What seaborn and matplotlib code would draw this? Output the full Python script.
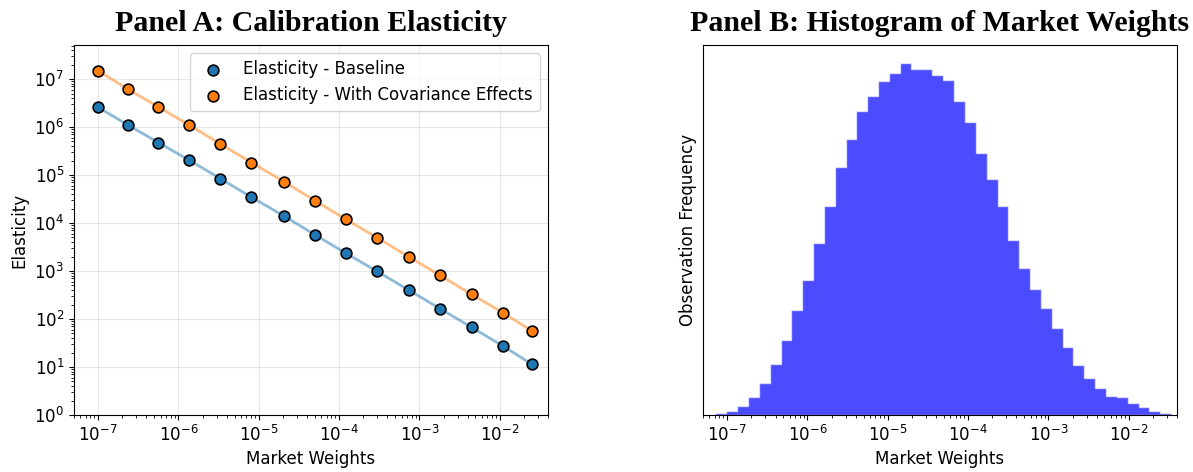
import numpy as np
import pandas as pd
import seaborn as sns
import matplotlib.pyplot as plt

# Panel A: elasticity vs market weight
market_weights = [1.0e-7, 2.36e-7, 5.64e-7, 1.37e-6, 3.33e-6, 8.11e-6, 2.05e-5, 4.98e-5,
                  1.21e-4, 3.0e-4, 7.36e-4, 1.82e-3, 4.48e-3, 1.10e-2, 2.5e-2]
elasticity_baseline = [2.58e6, 1.10e6, 4.74e5, 2.03e5, 8.43e4, 3.45e4, 1.41e4, 5.73e3,
                       2.36e3, 980, 401, 164, 67, 27.4, 11.5]
elasticity_cov = [1.49e7, 6.11e6, 2.62e6, 1.09e6, 4.45e5, 1.82e5, 7.31e4, 2.94e4,
                  1.20e4, 4.92e3, 1.98e3, 809, 325, 135, 57]

# Panel B: histogram of market weights, log10 bin range and counts per bin
bin_lo, bin_hi = -7.146, -1.471
counts = [3, 6, 14, 27, 48, 76, 112, 157, 203, 258, 313, 373, 415, 456, 479, 501, 513,
          529, 519, 519, 510, 503, 471, 440, 393, 354, 314, 263, 220, 189, 161, 131,
          102, 75, 56, 41, 29, 27, 18, 12, 6, 3]

plt.rcParams['font.family'] = ['DejaVu Sans']
plt.rcParams['font.size'] = 12

fig, (ax1, ax2) = plt.subplots(1, 2, figsize=(11.93, 4.72), dpi=100)
fig.subplots_adjust(left=0.062, right=0.9866, bottom=0.1208, top=0.9047, wspace=0.327)

title_font = dict(family='Liberation Serif', weight='bold', size=21.5)

# --- Panel A
sns.lineplot(x=market_weights, y=elasticity_baseline, ax=ax1, color='tab:blue',
             alpha=0.5, linewidth=2, zorder=2)
sns.lineplot(x=market_weights, y=elasticity_cov, ax=ax1, color='tab:orange',
             alpha=0.5, linewidth=2, zorder=2)
sns.scatterplot(x=market_weights, y=elasticity_baseline, ax=ax1, color='tab:blue',
                s=60, edgecolor='black', linewidth=1.2, zorder=3,
                label='Elasticity - Baseline')
sns.scatterplot(x=market_weights, y=elasticity_cov, ax=ax1, color='tab:orange',
                s=60, edgecolor='black', linewidth=1.2, zorder=3,
                label='Elasticity - With Covariance Effects')
ax1.set_xscale('log')
ax1.set_yscale('log')
ax1.set_xlim(5e-8, 4e-2)
ax1.set_ylim(1, 10 ** 7.71)
ax1.grid(True, alpha=0.3)
ax1.legend(loc='upper right', fontsize=12)
ax1.set_xlabel('Market Weights')
ax1.set_ylabel('Elasticity')
ax1.set_title('Panel A: Calibration Elasticity', pad=10, **title_font)

# --- Panel B
edges = np.linspace(bin_lo, bin_hi, len(counts) + 1)
hist_df = pd.DataFrame({'weight': 10 ** ((edges[:-1] + edges[1:]) / 2), 'count': counts})
sns.histplot(data=hist_df, x='weight', weights='count', bins=list(edges), log_scale=True,
             ax=ax2, color='blue', alpha=0.7, element='step', linewidth=1,
             edgecolor=(1, 1, 1, 0.6))
ax2.set_xlim(5e-8, 4e-2)
ax2.set_yticks([])
ax2.set_xlabel('Market Weights')
ax2.set_ylabel('Observation Frequency')
ax2.set_title('Panel B: Histogram of Market Weights', pad=10, **title_font)

plt.savefig('out.png', dpi=100)
